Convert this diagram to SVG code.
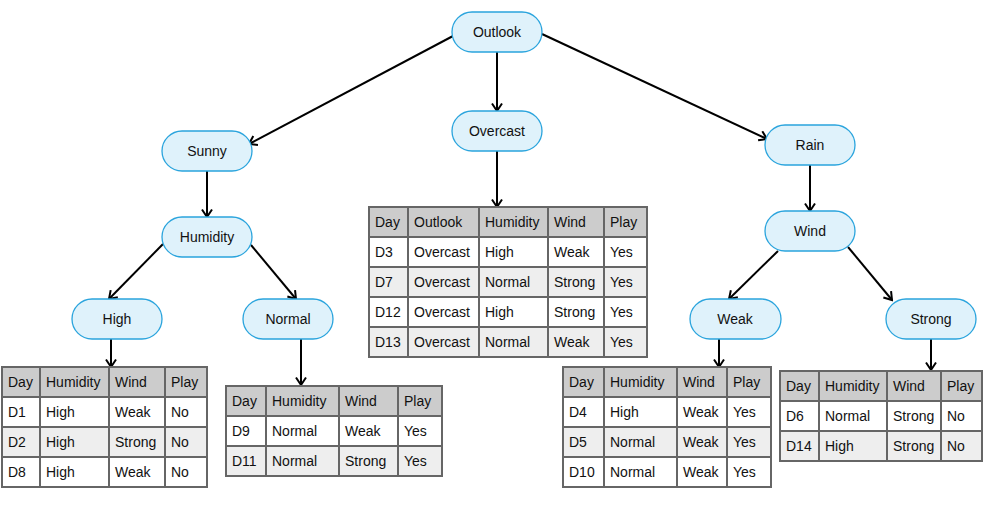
<svg xmlns="http://www.w3.org/2000/svg" width="990" height="510" viewBox="0 0 990 510">
<style>
.node rect{fill:#dff2fb;stroke:#2aa4dd;stroke-width:1.3}
.node text{font-family:"Liberation Sans",Arial,sans-serif;font-size:14px;fill:#111;text-anchor:middle}
.tbl text{font-family:"Liberation Sans",Arial,sans-serif;font-size:14px;fill:#111}
.hd{fill:#cccccc}
.w{fill:#ffffff}
.g{fill:#eeeeee}
.grid{stroke:#666666;stroke-width:2;fill:none}
.edge{stroke:#000;stroke-width:2;fill:none;marker-end:url(#arr)}
</style>
<defs>
<marker id="arr" viewBox="0 0 12 12" refX="10.5" refY="6" markerWidth="12" markerHeight="12" markerUnits="userSpaceOnUse" orient="auto">
<path d="M3,1 L10.5,6 L3,11" fill="none" stroke="#000" stroke-width="2"/>
</marker>
</defs>
<rect width="990" height="510" fill="#fff"/>

<g id="connectors">
<line class="edge" x1="453" y1="36" x2="249" y2="144"/>
<line class="edge" x1="497" y1="52" x2="497" y2="111"/>
<line class="edge" x1="542" y1="34" x2="767" y2="139"/>
<line class="edge" x1="207" y1="171" x2="207" y2="217"/>
<line class="edge" x1="163" y1="244" x2="109" y2="299"/>
<line class="edge" x1="251" y1="245" x2="296" y2="299"/>
<line class="edge" x1="111" y1="339" x2="111" y2="367"/>
<line class="edge" x1="301" y1="339" x2="301" y2="385"/>
<line class="edge" x1="497" y1="151" x2="497" y2="207"/>
<line class="edge" x1="810" y1="165" x2="810" y2="211"/>
<line class="edge" x1="778" y1="251" x2="729" y2="299"/>
<line class="edge" x1="848" y1="247" x2="892" y2="300"/>
<line class="edge" x1="719" y1="339" x2="719" y2="367"/>
<line class="edge" x1="931" y1="339" x2="931" y2="370"/>
</g>

<g id="n-outlook" class="node"><rect x="452" y="12" width="90" height="40" rx="20"/><text x="497" y="37">Outlook</text></g>
<g id="n-sunny" class="node"><rect x="162" y="131" width="90" height="40" rx="20"/><text x="207" y="156">Sunny</text></g>
<g id="n-overcast" class="node"><rect x="452" y="111" width="90" height="40" rx="20"/><text x="497" y="136">Overcast</text></g>
<g id="n-rain" class="node"><rect x="765" y="125" width="90" height="40" rx="20"/><text x="810" y="150">Rain</text></g>
<g id="n-humidity" class="node"><rect x="162" y="217" width="90" height="40" rx="20"/><text x="207" y="242">Humidity</text></g>
<g id="n-wind" class="node"><rect x="765" y="211" width="90" height="40" rx="20"/><text x="810" y="236">Wind</text></g>
<g id="n-high" class="node"><rect x="72" y="299" width="90" height="40" rx="20"/><text x="117" y="324">High</text></g>
<g id="n-normal" class="node"><rect x="243" y="299" width="90" height="40" rx="20"/><text x="288" y="324">Normal</text></g>
<g id="n-weak" class="node"><rect x="690" y="299" width="91" height="40" rx="20"/><text x="735" y="324">Weak</text></g>
<g id="n-strong" class="node"><rect x="886" y="299" width="90" height="40" rx="20"/><text x="931" y="324">Strong</text></g>

<g id="t-high" class="tbl">
<rect class="hd" x="2" y="367" width="205" height="30"/>
<rect class="w" x="2" y="397" width="205" height="30"/>
<rect class="g" x="2" y="427" width="205" height="30"/>
<rect class="w" x="2" y="457" width="205" height="30"/>
<path class="grid" d="M2,367H207V487H2Z M2,397H207 M2,427H207 M2,457H207 M40,367V487 M109,367V487 M165,367V487"/>
<text x="8" y="387">Day</text><text x="46" y="387">Humidity</text><text x="115" y="387">Wind</text><text x="171" y="387">Play</text>
<text x="8" y="417">D1</text><text x="46" y="417">High</text><text x="115" y="417">Weak</text><text x="171" y="417">No</text>
<text x="8" y="447">D2</text><text x="46" y="447">High</text><text x="115" y="447">Strong</text><text x="171" y="447">No</text>
<text x="8" y="477">D8</text><text x="46" y="477">High</text><text x="115" y="477">Weak</text><text x="171" y="477">No</text>
</g>

<g id="t-normal" class="tbl">
<rect class="hd" x="226" y="386" width="216" height="30"/>
<rect class="w" x="226" y="416" width="216" height="30"/>
<rect class="g" x="226" y="446" width="216" height="30"/>
<path class="grid" d="M226,386H442V476H226Z M226,416H442 M226,446H442 M266,386V476 M339,386V476 M398,386V476"/>
<text x="232" y="406">Day</text><text x="272" y="406">Humidity</text><text x="345" y="406">Wind</text><text x="404" y="406">Play</text>
<text x="232" y="436">D9</text><text x="272" y="436">Normal</text><text x="345" y="436">Weak</text><text x="404" y="436">Yes</text>
<text x="232" y="466">D11</text><text x="272" y="466">Normal</text><text x="345" y="466">Strong</text><text x="404" y="466">Yes</text>
</g>

<g id="t-overcast" class="tbl">
<rect class="hd" x="369" y="207" width="278" height="30"/>
<rect class="w" x="369" y="237" width="278" height="30"/>
<rect class="g" x="369" y="267" width="278" height="30"/>
<rect class="w" x="369" y="297" width="278" height="30"/>
<rect class="g" x="369" y="327" width="278" height="30"/>
<path class="grid" d="M369,207H647V357H369Z M369,237H647 M369,267H647 M369,297H647 M369,327H647 M408,207V357 M479,207V357 M548,207V357 M604,207V357"/>
<text x="375" y="227">Day</text><text x="414" y="227">Outlook</text><text x="485" y="227">Humidity</text><text x="554" y="227">Wind</text><text x="610" y="227">Play</text>
<text x="375" y="257">D3</text><text x="414" y="257">Overcast</text><text x="485" y="257">High</text><text x="554" y="257">Weak</text><text x="610" y="257">Yes</text>
<text x="375" y="287">D7</text><text x="414" y="287">Overcast</text><text x="485" y="287">Normal</text><text x="554" y="287">Strong</text><text x="610" y="287">Yes</text>
<text x="375" y="317">D12</text><text x="414" y="317">Overcast</text><text x="485" y="317">High</text><text x="554" y="317">Strong</text><text x="610" y="317">Yes</text>
<text x="375" y="347">D13</text><text x="414" y="347">Overcast</text><text x="485" y="347">Normal</text><text x="554" y="347">Weak</text><text x="610" y="347">Yes</text>
</g>

<g id="t-weak" class="tbl">
<rect class="hd" x="563" y="367" width="208" height="30"/>
<rect class="w" x="563" y="397" width="208" height="30"/>
<rect class="g" x="563" y="427" width="208" height="30"/>
<rect class="w" x="563" y="457" width="208" height="30"/>
<path class="grid" d="M563,367H771V487H563Z M563,397H771 M563,427H771 M563,457H771 M604,367V487 M677,367V487 M727,367V487"/>
<text x="569" y="387">Day</text><text x="610" y="387">Humidity</text><text x="683" y="387">Wind</text><text x="733" y="387">Play</text>
<text x="569" y="417">D4</text><text x="610" y="417">High</text><text x="683" y="417">Weak</text><text x="733" y="417">Yes</text>
<text x="569" y="447">D5</text><text x="610" y="447">Normal</text><text x="683" y="447">Weak</text><text x="733" y="447">Yes</text>
<text x="569" y="477">D10</text><text x="610" y="477">Normal</text><text x="683" y="477">Weak</text><text x="733" y="477">Yes</text>
</g>

<g id="t-strong" class="tbl">
<rect class="hd" x="780" y="371" width="202" height="30"/>
<rect class="w" x="780" y="401" width="202" height="30"/>
<rect class="g" x="780" y="431" width="202" height="30"/>
<path class="grid" d="M780,371H982V461H780Z M780,401H982 M780,431H982 M819,371V461 M887,371V461 M941,371V461"/>
<text x="786" y="391">Day</text><text x="825" y="391">Humidity</text><text x="893" y="391">Wind</text><text x="947" y="391">Play</text>
<text x="786" y="421">D6</text><text x="825" y="421">Normal</text><text x="893" y="421">Strong</text><text x="947" y="421">No</text>
<text x="786" y="451">D14</text><text x="825" y="451">High</text><text x="893" y="451">Strong</text><text x="947" y="451">No</text>
</g>
</svg>
